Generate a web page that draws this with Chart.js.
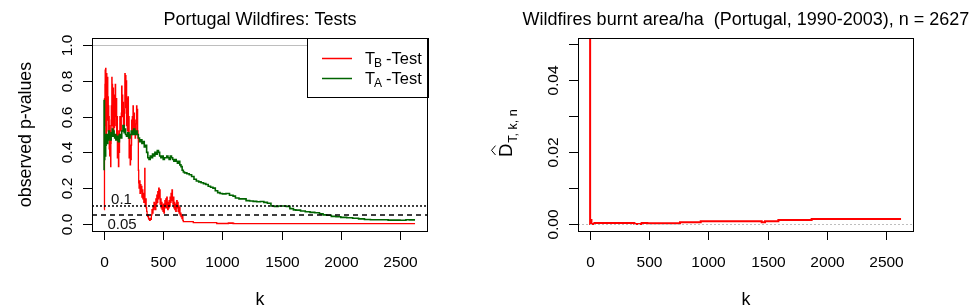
<!DOCTYPE html>
<html>
<head>
<meta charset="utf-8">
<script src="https://cdn.jsdelivr.net/npm/chart.js@4.4.1/dist/chart.umd.min.js"></script>
<style>
html, body { margin: 0; padding: 0; background: #fff; }
#wrap { position: relative; width: 972px; height: 308px; overflow: hidden; }
canvas { position: absolute; top: 0; }
</style>
</head>
<body>
<div id="wrap">
  <canvas id="left" width="486" height="308" style="left:0"></canvas>
  <canvas id="right" width="486" height="308" style="left:486px"></canvas>
</div>
<script>
// T_B test p-values (red)
const kB = [1,4,6,8,10,12,14,16,18,20,22,24,26,28,30,32,34,36,38,40,42,44,46,48,50,52,54,56,58,60,
  62,64,66,68,70,72,74,76,78,80,83,86,89,92,95,98,101,104,107,110,113,116,119,122,125,128,131,134,137,140,
  143,146,149,152,155,158,161,164,167,170,173,176,179,182,185,188,191,194,197,200,203,206,209,212,215,218,
  221,224,227,230,233,236,239,242,245,248,251,254,257,260,263,266,269,272,275,278,281,284,287,290,293,296,
  300,304,308,312,316,320,324,328,332,336,340,344,346,348,352,356,360,364,368,372,376,380,385,390,395,400,
  405,410,414,418,422,426,430,434,438,442,446,450,454,458,462,466,470,474,478,482,486,490,494,498,502,506,
  510,514,518,522,526,530,534,538,542,546,550,554,558,562,566,570,574,578,582,586,590,594,598,602,606,610,
  614,618,622,626,630,634,638,642,646,650,654,658,662,666,670,676,754,758,952,956,1050,1053,1062,1070,1080,
  1090,1098,1500,2627];
const pB = [0.08,0.08,0.70,0.42,0.78,0.86,0.55,0.87,0.64,0.80,0.50,0.84,0.62,0.76,0.58,0.82,0.60,0.71,0.52,0.66,
  0.50,0.60,0.42,0.55,0.38,0.48,0.40,0.52,0.32,0.45,0.58,0.66,0.55,0.82,0.62,0.78,0.55,0.70,0.52,0.76,
  0.50,0.66,0.54,0.72,0.60,0.78,0.62,0.55,0.70,0.48,0.60,0.37,0.52,0.45,0.32,0.50,0.40,0.52,0.60,0.53,
  0.58,0.52,0.62,0.77,0.60,0.72,0.62,0.68,0.52,0.64,0.55,0.62,0.84,0.65,0.83,0.70,0.80,0.55,0.70,0.52,
  0.64,0.71,0.48,0.60,0.37,0.50,0.44,0.33,0.42,0.36,0.44,0.58,0.50,0.60,0.52,0.66,0.58,0.52,0.62,0.54,
  0.58,0.48,0.55,0.50,0.56,0.66,0.60,0.64,0.52,0.48,0.30,0.23,0.20,0.24,0.17,0.22,0.18,0.21,0.15,0.19,
  0.14,0.17,0.12,0.16,0.31,0.13,0.10,0.14,0.09,0.07,0.05,0.04,0.05,0.03,0.025,0.02,0.03,0.025,0.05,0.08,
  0.06,0.10,0.08,0.12,0.09,0.11,0.08,0.14,0.11,0.16,0.12,0.18,0.14,0.20,0.15,0.19,0.11,0.14,0.09,0.12,
  0.08,0.10,0.07,0.11,0.06,0.09,0.13,0.10,0.14,0.09,0.15,0.11,0.08,0.12,0.09,0.13,0.10,0.15,0.12,0.17,
  0.13,0.19,0.14,0.11,0.15,0.09,0.12,0.08,0.11,0.07,0.10,0.13,0.09,0.12,0.07,0.10,0.06,0.09,0.05,0.06,
  0.04,0.05,0.03,0.04,0.02,0.013,0.013,0.007,0.007,0.002,0.002,0.006,0.003,0.006,0.003,0.006,0.002,0.001,0.001];

// T_A test p-values (green)
const kA = [1,4,6,8,10,12,14,16,18,20,24,28,32,36,40,45,50,55,60,65,70,75,80,85,90,95,100,110,120,130,
  140,150,160,170,176,182,190,200,210,220,230,240,250,260,270,280,290,300,310,320,330,340,350,360,370,380,
  390,400,410,420,430,440,450,460,470,480,490,500,510,520,530,540,550,560,570,580,590,600,610,620,630,640,
  650,660,670,680,700,720,740,760,780,800,820,840,860,880,900,920,940,960,980,1000,1030,1060,1090,1110,
  1140,1170,1200,1230,1260,1290,1320,1350,1380,1410,1440,1470,1500,1540,1570,1600,1620,1660,1700,1740,
  1780,1820,1850,1880,1920,1960,2000,2050,2100,2150,2200,2250,2300,2400,2500,2550,2580,2600,2627];
const pA = [0.30,0.69,0.36,0.50,0.40,0.45,0.38,0.47,0.44,0.50,0.46,0.48,0.45,0.50,0.47,0.52,0.48,0.50,0.47,0.51,
  0.49,0.53,0.49,0.52,0.50,0.48,0.50,0.47,0.49,0.46,0.50,0.48,0.52,0.55,0.51,0.53,0.50,0.49,0.51,0.48,
  0.50,0.52,0.50,0.53,0.50,0.52,0.50,0.48,0.46,0.47,0.45,0.46,0.43,0.44,0.40,0.37,0.36,0.38,0.37,0.39,
  0.38,0.40,0.39,0.41,0.40,0.38,0.37,0.38,0.36,0.37,0.37,0.38,0.37,0.36,0.38,0.37,0.36,0.35,0.36,0.35,
  0.34,0.35,0.33,0.32,0.30,0.29,0.285,0.28,0.275,0.265,0.25,0.24,0.235,0.23,0.225,0.22,0.21,0.205,0.20,0.185,
  0.175,0.17,0.168,0.17,0.16,0.155,0.145,0.14,0.14,0.13,0.128,0.126,0.124,0.125,0.12,0.115,0.10,0.098,0.10,0.10,
  0.098,0.085,0.078,0.077,0.072,0.068,0.064,0.062,0.056,0.05,0.048,0.042,0.04,0.036,0.034,0.031,0.028,0.024,
  0.023,0.023,0.021,0.020,0.023,0.022,0.022];

// D-hat (right panel)
const kD = [1,5,12,37,375,436,484,760,935,1450,1478,1591,1872,2266,2627];
const dHat = [0.9,0.0,0.0011,0.0,0.0003,0.0,0.0003,0.0002,0.0005,0.0008,0.0005,0.0008,0.0011,0.0014,0.0014];

const xTicks = [0, 500, 1000, 1500, 2000, 2500];
const pTicks = [0, 0.2, 0.4, 0.6, 0.8, 1.0];
const pTickLabels = ['0.0', '0.2', '0.4', '0.6', '0.8', '1.0'];
const dTicks = [0, 0.01, 0.02, 0.03, 0.04, 0.05];
const dTickLabels = ['0.00', '', '0.02', '', '0.04', ''];
const levels = [0.1, 0.05];
const levelLabels = ['0.1', '0.05'];

const FONT = '"Liberation Sans", Arial, sans-serif';

function pts(ks, vs) {
  return ks.map((k, i) => ({ x: k, y: vs[i] }));
}

function hline(ctx, a, y, color, dash, width) {
  ctx.strokeStyle = color;
  ctx.lineWidth = width;
  ctx.setLineDash(dash);
  ctx.beginPath();
  ctx.moveTo(a.left, y);
  ctx.lineTo(a.right, y);
  ctx.stroke();
  ctx.setLineDash([]);
}

// R-like frame: box, outward ticks, rotated y labels, titles, extra bits
const rFrame = {
  id: 'rFrame',
  afterDatasetsDraw(chart, args, opts) {
    const ctx = chart.ctx;
    const a = chart.chartArea;
    const xs = chart.scales.x, ys = chart.scales.y;
    ctx.save();

    if (opts.panel === 'left') {
      hline(ctx, a, Math.round(ys.getPixelForValue(1)) + 0.5, '#bebebe', [], 1);
      hline(ctx, a, ys.getPixelForValue(levels[0]), '#000', [2, 2], 1.5);
      hline(ctx, a, ys.getPixelForValue(levels[1]), '#000', [5, 4], 1.5);
      ctx.fillStyle = '#111';
      ctx.font = '15px ' + FONT;
      ctx.textAlign = 'center';
      ctx.textBaseline = 'alphabetic';
      ctx.fillText(levelLabels[0], 121.5, 203.5);
      ctx.fillText(levelLabels[1], 122, 228.5);

      // legend
      const lx = 307, ly = 38, lw = 428 - 307, lh = 97 - 38;
      ctx.fillStyle = '#fff';
      ctx.fillRect(lx, ly, lw, lh);
      ctx.strokeStyle = '#000';
      ctx.lineWidth = 1;
      ctx.strokeRect(lx + 0.5, ly + 0.5, lw, lh);
      const items = [
        { color: '#ff0000', sub: 'B', y: 58.5, w: 1.5 },
        { color: '#006400', sub: 'A', y: 78.5, w: 1.5 }
      ];
      items.forEach(it => {
        ctx.strokeStyle = it.color;
        ctx.lineWidth = it.w;
        ctx.beginPath();
        ctx.moveTo(322, it.y);
        ctx.lineTo(352, it.y);
        ctx.stroke();
        ctx.fillStyle = '#000';
        ctx.textAlign = 'left';
        ctx.font = '16.5px ' + FONT;
        ctx.fillText('T', 365, it.y + 5.5);
        ctx.font = '12px ' + FONT;
        ctx.fillText(it.sub, 374, it.y + 8.5);
        ctx.font = '16.5px ' + FONT;
        ctx.fillText('-Test', 386, it.y + 5.5);
      });
    } else {
      hline(ctx, a, Math.round(ys.getPixelForValue(0)) + 0.5, '#bebebe', [2, 2], 1);
    }

    // box
    ctx.strokeStyle = '#000';
    ctx.lineWidth = 1;
    ctx.strokeRect(a.left + 0.5, a.top + 0.5, a.right - a.left - 1, a.bottom - a.top);

    // x axis
    ctx.fillStyle = '#000';
    ctx.font = '15.5px ' + FONT;
    ctx.textAlign = 'center';
    ctx.textBaseline = 'alphabetic';
    xTicks.forEach(v => {
      const x = Math.round(xs.getPixelForValue(v)) + 0.5;
      ctx.beginPath();
      ctx.moveTo(x, a.bottom);
      ctx.lineTo(x, a.bottom + 9);
      ctx.stroke();
      ctx.fillText(String(v), x, 266.5);
    });

    // y axis
    const yt = opts.panel === 'left' ? pTicks : dTicks;
    const yl = opts.panel === 'left' ? pTickLabels : dTickLabels;
    yt.forEach((v, i) => {
      const y = Math.round(ys.getPixelForValue(v)) + 0.5;
      ctx.beginPath();
      ctx.moveTo(a.left - 9, y);
      ctx.lineTo(a.left, y);
      ctx.stroke();
      if (yl[i]) {
        ctx.save();
        ctx.translate(a.left - 20.5, y);
        ctx.rotate(-Math.PI / 2);
        ctx.fillText(yl[i], 0, 0);
        ctx.restore();
      }
    });

    // titles
    const cx = (a.left + a.right) / 2;
    ctx.font = '18px ' + FONT;
    ctx.textAlign = 'center';
    ctx.fillText(opts.title, cx, 25);
    ctx.font = '17.8px ' + FONT;
    ctx.fillText('k', cx, 304.5);

    if (opts.panel === 'left') {
      ctx.save();
      ctx.translate(30.5, (a.top + a.bottom) / 2);
      ctx.rotate(-Math.PI / 2);
      ctx.fillText('observed p-values', 0, 0);
      ctx.restore();
    } else {
      ctx.save();
      ctx.translate(512 - 486, 157);
      ctx.rotate(-Math.PI / 2);
      ctx.textAlign = 'left';
      ctx.font = '18.5px ' + FONT;
      const w = ctx.measureText('D').width;
      ctx.fillText('D', 0, 0);
      ctx.lineWidth = 1;
      ctx.beginPath();
      ctx.moveTo(2, -16.5);
      ctx.lineTo(w / 2, -20.5);
      ctx.lineTo(w - 2, -16.5);
      ctx.stroke();
      ctx.font = '12.5px ' + FONT;
      ctx.fillText('T, k, n', w + 1, 4.5);
      ctx.restore();
    }
    ctx.restore();
  }
};

function makeChart(id, datasets, yMin, yMax, frame) {
  return new Chart(document.getElementById(id), {
    type: 'line',
    data: { datasets: datasets },
    options: {
      responsive: false,
      animation: false,
      devicePixelRatio: 1,
      layout: { padding: { left: 92, right: 58, top: 38, bottom: 77 } },
      scales: {
        x: { type: 'linear', min: -101.4, max: 2736.5, display: false },
        y: { type: 'linear', min: yMin, max: yMax, display: false }
      },
      elements: { point: { radius: 0 }, line: { tension: 0 } },
      plugins: { legend: { display: false }, tooltip: { enabled: false }, rFrame: frame }
    },
    plugins: [rFrame]
  });
}

makeChart('left', [
  { label: 'T_B -Test', data: pts(kB, pB), borderColor: '#ff0000', borderWidth: 1.3, stepped: 'after', order: 1 },
  { label: 'T_A -Test', data: pts(kA, pA), borderColor: '#006400', borderWidth: 1.6, stepped: 'after', order: 0 }
], -0.04, 1.04, { panel: 'left', title: 'Portugal Wildfires: Tests' });

makeChart('right', [
  { label: 'D', data: pts(kD, dHat), borderColor: '#ff0000', borderWidth: 2, stepped: 'after' }
], -0.00195, 0.0518, { panel: 'right', title: 'Wildfires burnt area/ha  (Portugal, 1990-2003), n = 2627' });
</script>
</body>
</html>
